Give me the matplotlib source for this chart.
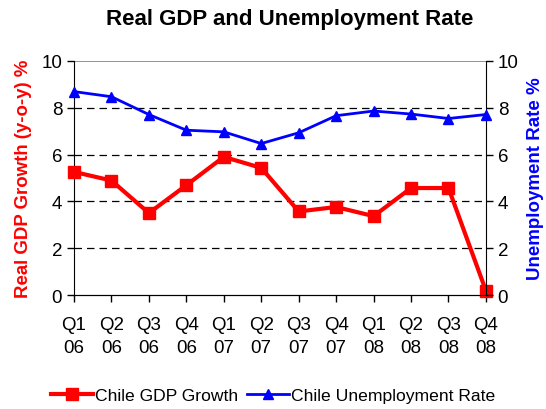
import matplotlib
matplotlib.use("Agg")
import matplotlib.pyplot as plt

plt.rcParams['font.family'] = ['Liberation Sans', 'DejaVu Sans']

# quarters
quarters = ['Q1\n06', 'Q2\n06', 'Q3\n06', 'Q4\n06', 'Q1\n07', 'Q2\n07',
            'Q3\n07', 'Q4\n07', 'Q1\n08', 'Q2\n08', 'Q3\n08', 'Q4\n08']
# real gdp growth y-o-y %
gdp_growth = [5.26, 4.89, 3.5, 4.69, 5.9, 5.43, 3.57, 3.76, 3.37, 4.57, 4.57, 0.18]
# unemployment rate %
unemployment = [8.69, 8.47, 7.71, 7.04, 6.97, 6.47, 6.93, 7.66, 7.86, 7.73, 7.54, 7.71]

x = list(range(len(quarters)))

fig = plt.figure(figsize=(5.46, 4.10), dpi=100)
ax = fig.add_axes([0.1355, 0.278, 0.7545, 0.571])
ax2 = ax.twinx()

for yv in [2, 4, 6, 8]:
    ax.axhline(yv, color='black', lw=0.9, ls=(0, (6, 4)), zorder=0)
ax.axhline(10, color='#808080', lw=1.2, zorder=0)

l1, = ax.plot(x, gdp_growth, color='#ff0000', lw=3, marker='s', ms=8,
              label='Chile GDP Growth', clip_on=False, zorder=3)
l2, = ax2.plot(x, unemployment, color='#0000ff', lw=2, marker='^', ms=7.5,
               label='Chile Unemployment Rate', clip_on=False, zorder=3)

for a in (ax, ax2):
    a.set_ylim(0, 10)
    a.set_yticks([0, 2, 4, 6, 8, 10])
    a.tick_params(axis='y', labelsize=13.5, direction='out', length=5, width=1)
    a.spines['top'].set_visible(False)
ax.set_xlim(0, 11)
ax.set_xticks(x)
ax.set_xticklabels(quarters, fontsize=13.5, linespacing=1.45)
ax.tick_params(axis='x', direction='out', length=5, width=1, pad=10)
ax.spines['right'].set_visible(False)
ax2.spines['left'].set_visible(False)

ax.set_ylabel('Real GDP Growth (y-o-y) %', color='#ff0000', fontsize=13.4,
              fontweight='bold', labelpad=7)
ax2.set_ylabel('Unemployment Rate %', color='#0000ff', fontsize=13.5,
               fontweight='bold', labelpad=6)

fig.suptitle('Real GDP and Unemployment Rate', fontsize=16, fontweight='bold',
             x=0.53, y=0.978)

fig.legend(handles=[l1, l2], loc='lower center', bbox_to_anchor=(0.5, -0.025),
           ncol=2, frameon=False, fontsize=12.6, handlelength=2.4,
           handletextpad=0.1, columnspacing=0.5)

fig.savefig('out.png', dpi=100)
